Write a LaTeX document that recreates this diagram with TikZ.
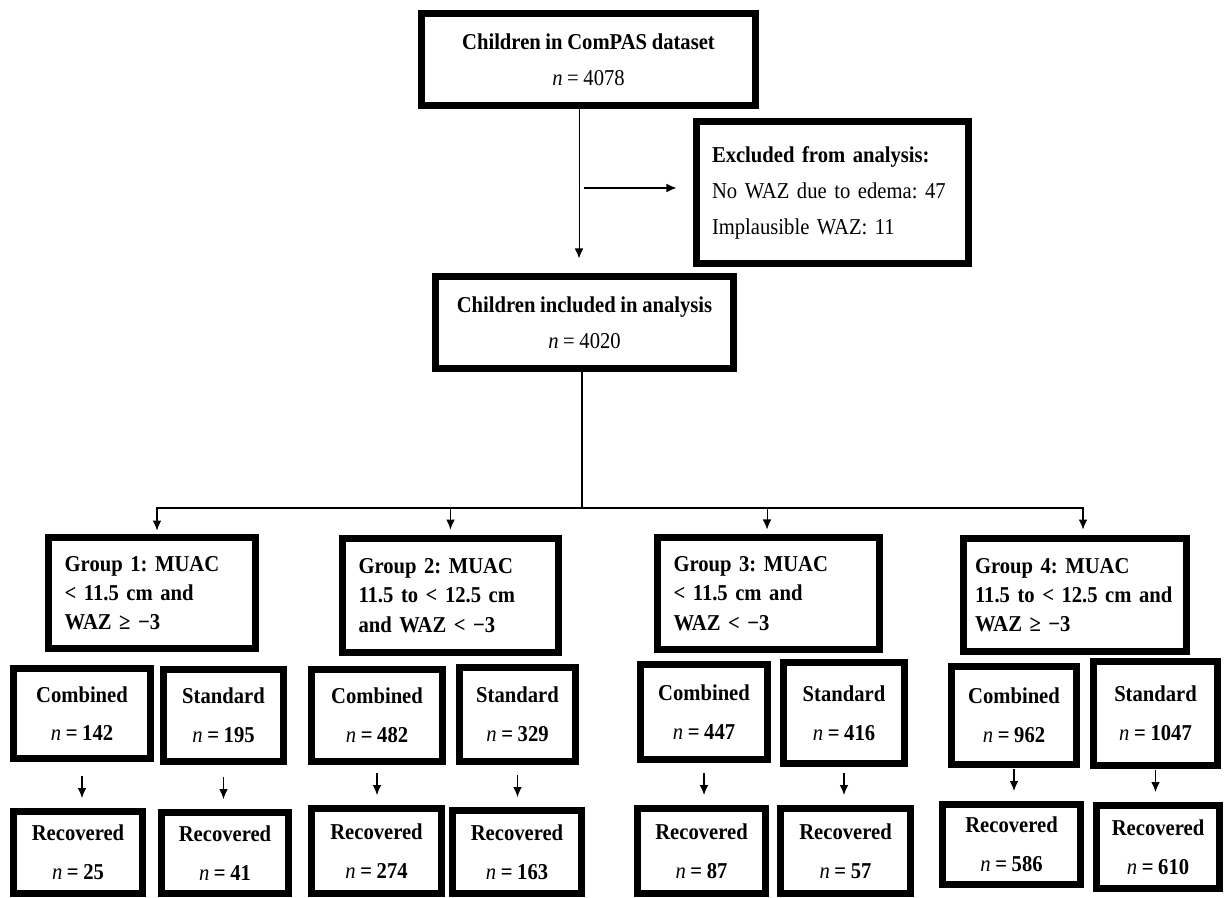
\documentclass[tikz,border=0pt]{standalone}
\usepackage{fontspec}
\setmainfont{Liberation Serif}[FakeStretch=0.91, WordSpace=0.9]
\frenchspacing
\usetikzlibrary{arrows.meta,calc}

\begin{document}
\begin{tikzpicture}
    [
    x=0.75pt, y=-0.75pt, >={Latex[length=7.5pt,width=6.5pt]},
    font=\fontsize{17}{27}\selectfont,
    %thick frames for all boxes
    flowbox/.style={draw, line width=5.25pt, inner sep=0pt, align=center},
    groupbox/.style={flowbox, align=left, font=\bfseries\fontsize{17}{22}\selectfont},
    armbox/.style={flowbox, font=\fontsize{17}{29}\selectfont},
    conn/.style={line width=0.8pt, ->}
    ]

    \useasboundingbox (0,0) rectangle (1226,897);

    %dataset
    \node[flowbox, minimum width=250.5pt, minimum height=69pt] (dataset) at (588.5,59.5)
    {\textbf{Children in ComPAS dataset}\\\textit{n} = 4078};

    %excluded
    \node[flowbox, align=left, text width=180.75pt, minimum width=204pt, minimum height=106.5pt] (excluded) at (832.5,192.5)
    {\textbf{Excluded from analysis:}\\No WAZ due to edema: 47\\Implausible WAZ: 11};

    %included
    \node[flowbox, minimum width=223.5pt, minimum height=69pt] (included) at (584.5,322.5)
    {\textbf{Children included in analysis}\\\textit{n} = 4020};

    %groups
    \node[groupbox, text width=131pt, minimum width=155.25pt, minimum height=83.25pt] (g1) at (152,593)
    {Group 1: MUAC\\< 11.5 cm and\\WAZ ≥ −3};
    \node[groupbox, text width=138pt, minimum width=162pt, minimum height=85.5pt] (g2) at (450.5,595.5)
    {Group 2: MUAC\\11.5 to < 12.5 cm\\and WAZ < −3};
    \node[groupbox, text width=142.5pt, minimum width=166.5pt, minimum height=84pt] (g3) at (768.5,593.5)
    {Group 3: MUAC\\< 11.5 cm and\\WAZ < −3};
    \node[groupbox, text width=150pt, minimum width=167.25pt, minimum height=84.75pt] (g4) at (1075,595)
    {Group 4: MUAC\\11.5 to < 12.5 cm and\\WAZ ≥ −3};

    %treatment arms
    \node[armbox, minimum width=102.75pt, minimum height=67.5pt] (c1) at (82,713.5)
    {\textbf{Combined}\\\textit{n} \textbf{= 142}};
    \node[armbox, minimum width=90pt, minimum height=69pt] (s1) at (223.5,715.5)
    {\textbf{Standard}\\\textit{n} \textbf{= 195}};
    \node[armbox, minimum width=98.25pt, minimum height=69pt] (c2) at (377,715.5)
    {\textbf{Combined}\\\textit{n} \textbf{= 482}};
    \node[armbox, minimum width=87pt, minimum height=70.5pt] (s2) at (517.5,714.5)
    {\textbf{Standard}\\\textit{n} \textbf{= 329}};
    \node[armbox, minimum width=95.25pt, minimum height=71.25pt] (c3) at (704,712)
    {\textbf{Combined}\\\textit{n} \textbf{= 447}};
    \node[armbox, minimum width=90.75pt, minimum height=75.75pt] (s3) at (844,713)
    {\textbf{Standard}\\\textit{n} \textbf{= 416}};
    \node[armbox, minimum width=93.75pt, minimum height=73.5pt] (c4) at (1014,715.5)
    {\textbf{Combined}\\\textit{n} \textbf{= 962}};
    \node[armbox, minimum width=93pt, minimum height=78pt] (s4) at (1155.5,713.5)
    {\textbf{Standard}\\\textit{n} \textbf{= 1047}};

    %recovered
    \node[armbox, minimum width=96.75pt, minimum height=61.5pt] (rc1) at (78,852.5)
    {\textbf{Recovered}\\\textit{n} \textbf{= 25}};
    \node[armbox, minimum width=95.25pt, minimum height=60.75pt] (rs1) at (225,853)
    {\textbf{Recovered}\\\textit{n} \textbf{= 41}};
    \node[armbox, minimum width=97.5pt, minimum height=63.75pt] (rc2) at (376.5,851)
    {\textbf{Recovered}\\\textit{n} \textbf{= 274}};
    \node[armbox, minimum width=96.75pt, minimum height=62.25pt] (rs2) at (517,852)
    {\textbf{Recovered}\\\textit{n} \textbf{= 163}};
    \node[armbox, minimum width=96pt, minimum height=63.75pt] (rc3) at (701.5,851)
    {\textbf{Recovered}\\\textit{n} \textbf{= 87}};
    \node[armbox, minimum width=97.5pt, minimum height=63.75pt] (rs3) at (845.5,851)
    {\textbf{Recovered}\\\textit{n} \textbf{= 57}};
    \node[armbox, minimum width=103.5pt, minimum height=60pt] (rc4) at (1011.5,844.5)
    {\textbf{Recovered}\\\textit{n} \textbf{= 586}};
    \node[armbox, minimum width=92.25pt, minimum height=62.25pt] (rs4) at (1158,847)
    {\textbf{Recovered}\\\textit{n} \textbf{= 610}};

    %dataset to included, side arrow to excluded
    \draw[conn] ([xshift=-7.1pt]dataset.south) -- ([xshift=-4.1pt,yshift=10.9pt]included.north);
    \draw[conn] ([xshift=-82.1pt,yshift=3.4pt]excluded.west) -- ([xshift=-12.4pt,yshift=3.4pt]excluded.west);

    %split into groups
    \draw[line width=0.8pt] ([xshift=-1.9pt]included.south) -- ++(0,136) coordinate (hub);
    \draw[conn] (hub) -| ([xshift=3.75pt,yshift=2.6pt]g1.north);
    \draw[conn] (hub) -| ([yshift=4.1pt]g2.north);
    \draw[conn] (hub) -| ([xshift=-1.1pt,yshift=3.4pt]g3.north);
    \draw[conn] (hub) -| ([xshift=6pt,yshift=4.1pt]g4.north);

    %arms to recovered
    \foreach \a/\b in {c1/rc1, s1/rs1, c2/rc2, s2/rs2, c3/rc3, s3/rs3, c4/rc4, s4/rs4}
    \draw[conn] ($(\a.south |- \b.north)+(0,-32)$) -- ($(\a.south |- \b.north)+(0,-10)$);
\end{tikzpicture}
\end{document}
